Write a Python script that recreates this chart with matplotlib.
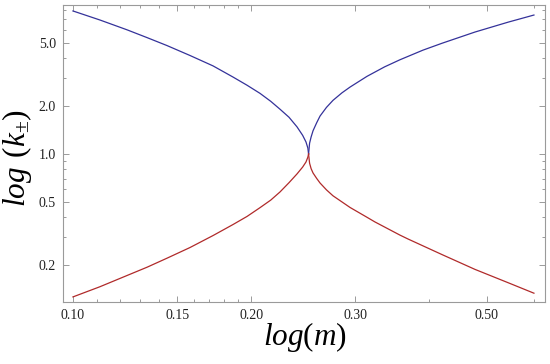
import matplotlib
matplotlib.use("Agg")
import matplotlib.pyplot as plt
from matplotlib.ticker import FixedLocator, FixedFormatter, NullFormatter

# upper branch k+ (blue)
m_plus_left = [0.100, 0.111, 0.1234, 0.1334, 0.1441, 0.1576, 0.1724, 0.1863, 0.1968, 0.2070,
               0.2158, 0.2237, 0.2317, 0.2390, 0.2443, 0.2475, 0.2493, 0.2500]
k_plus_left = [7.89, 6.93, 6.01, 5.37, 4.79, 4.15, 3.57, 3.04, 2.70, 2.40,
               2.14, 1.91, 1.70, 1.48, 1.31, 1.19, 1.09, 1.00]
m_plus_right = [0.2500, 0.2510, 0.2525, 0.2544, 0.2580, 0.2614, 0.2680, 0.2749, 0.2847, 0.2938,
                0.3138, 0.3360, 0.3567, 0.3900, 0.4201, 0.4775, 0.5430, 0.6006]
k_plus_right = [1.00, 1.17, 1.28, 1.40, 1.57, 1.73, 1.96, 2.17, 2.42, 2.63,
                3.07, 3.52, 3.90, 4.48, 4.95, 5.82, 6.71, 7.44]

# lower branch k- (red)
m_minus_left = [0.100, 0.111, 0.1234, 0.1334, 0.1441, 0.1576, 0.1724, 0.1863, 0.1968, 0.2070,
                0.2158, 0.2237, 0.2317, 0.2390, 0.2443, 0.2475, 0.2493, 0.2500]
k_minus_left = [0.127, 0.147, 0.173, 0.195, 0.222, 0.259, 0.308, 0.361, 0.406, 0.461,
                0.514, 0.578, 0.661, 0.750, 0.828, 0.891, 0.955, 1.00]
m_minus_right = [0.2500, 0.2510, 0.2525, 0.2544, 0.2580, 0.2614, 0.2680, 0.2749, 0.2938, 0.3138,
                 0.3236, 0.3567, 0.3681, 0.4201, 0.4775, 0.5430, 0.6006]
k_minus_right = [1.00, 0.875, 0.809, 0.760, 0.703, 0.658, 0.596, 0.547, 0.462, 0.401,
                 0.375, 0.310, 0.293, 0.234, 0.189, 0.156, 0.134]

x_major = [0.10, 0.15, 0.20, 0.30, 0.50]
x_major_labels = ["0.10", "0.15", "0.20", "0.30", "0.50"]
x_minor = [0.11, 0.12, 0.13, 0.14, 0.16, 0.17, 0.18, 0.19, 0.40, 0.60]
y_major = [0.2, 0.5, 1.0, 2.0, 5.0]
y_major_labels = ["0.2", "0.5", "1.0", "2.0", "5.0"]
y_minor = [0.3, 0.4, 0.6, 0.7, 0.8, 0.9, 3, 4, 6, 7, 8]

plt.rcParams['mathtext.fontset'] = 'custom'
plt.rcParams['mathtext.rm'] = 'Liberation Serif'
plt.rcParams['mathtext.it'] = 'Liberation Serif:italic'
plt.rcParams['font.family'] = ['Liberation Serif', 'DejaVu Serif']

fig = plt.figure(figsize=(5.5, 3.64), dpi=100)
ax = fig.add_axes([63/550, 1-302/364, (545-63)/550, (302-5)/364])

blue = '#34329a'
red = '#b02a2a'
ax.plot(m_plus_left, k_plus_left, color=blue, lw=0.9)
ax.plot(m_plus_right, k_plus_right, color=blue, lw=0.9)
ax.plot(m_minus_left, k_minus_left, color=red, lw=0.9)
ax.plot(m_minus_right, k_minus_right, color=red, lw=0.9)

ax.set_xscale('log')
ax.set_yscale('log')
ax.set_xlim(0.0962, 0.627)
ax.set_ylim(0.118, 8.6)

ax.xaxis.set_major_locator(FixedLocator(x_major))
ax.xaxis.set_major_formatter(FixedFormatter(x_major_labels))
ax.xaxis.set_minor_locator(FixedLocator(x_minor))
ax.xaxis.set_minor_formatter(NullFormatter())
ax.yaxis.set_major_locator(FixedLocator(y_major))
ax.yaxis.set_major_formatter(FixedFormatter(y_major_labels))
ax.yaxis.set_minor_locator(FixedLocator(y_minor))
ax.yaxis.set_minor_formatter(NullFormatter())

gray = '#9a9a9a'
for s in ax.spines.values():
    s.set_color(gray)
    s.set_linewidth(0.8)
ax.tick_params(which='both', direction='in', top=True, right=True, color=gray, width=0.7)
ax.tick_params(which='major', length=4, labelsize=10, pad=5, labelcolor='#222222')
ax.tick_params(which='minor', length=2)

fig.text(305/550, 1-337/364, r'$log(m)$', fontsize=22.5, ha='center', va='center')
fig.text(17/550, 1-158/364, r'$log\;\,(k_{\pm})$', fontsize=22.5, ha='center', va='center',
         rotation=90)

fig.savefig('out.png', dpi=100)
